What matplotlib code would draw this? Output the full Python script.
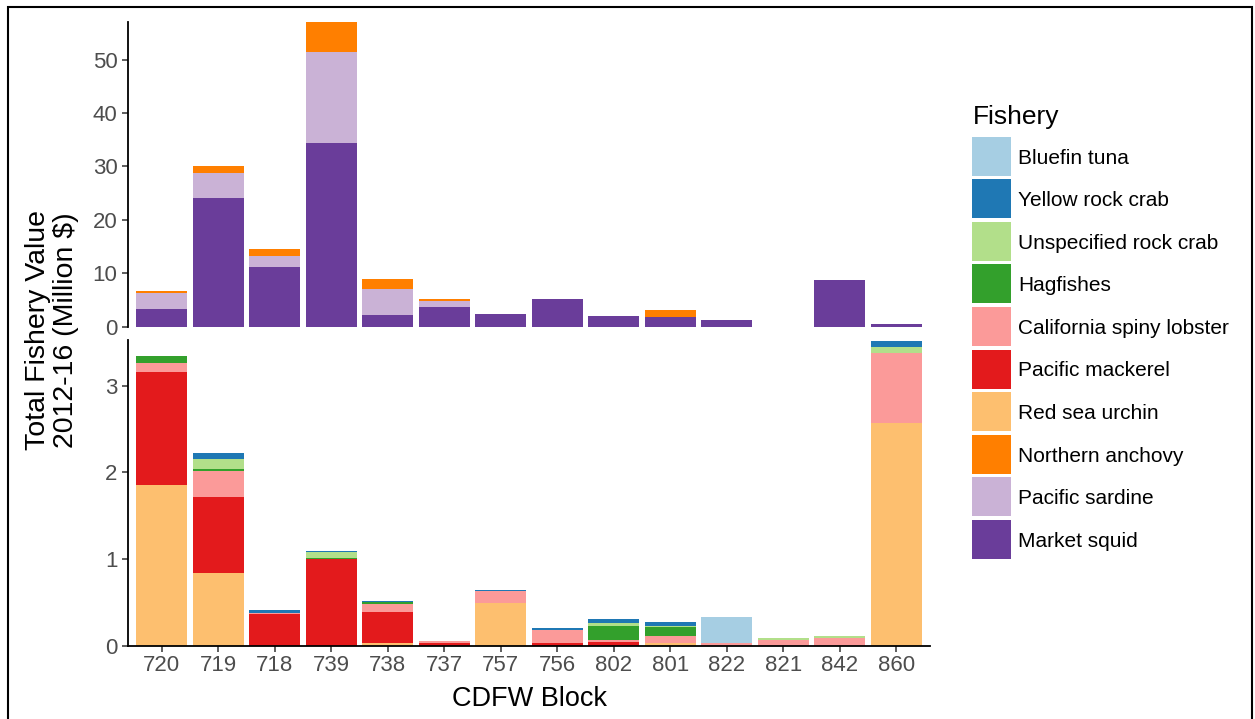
import matplotlib
matplotlib.use("Agg")
import matplotlib.pyplot as plt
from matplotlib.patches import Rectangle
import numpy as np

plt.rcParams['font.family'] = ['Liberation Sans', 'DejaVu Sans']

blocks = ["720", "719", "718", "739", "738", "737", "757", "756",
          "802", "801", "822", "821", "842", "860"]

# Top panel (large fisheries), Million $
market_squid    = [3.3, 24.1, 11.1, 34.3, 2.2, 3.6, 2.4, 5.2, 1.95, 1.9, 1.25, 0.0, 8.7, 0.5]
pacific_sardine = [3.1, 4.6, 2.1, 17.1, 4.8, 1.3, 0.0, 0.0, 0.0, 0.0, 0.0, 0.0, 0.0, 0.0]
northern_anchovy = [0.3, 1.4, 1.3, 5.7, 2.0, 0.2, 0.0, 0.0, 0.0, 1.2, 0.0, 0.0, 0.0, 0.0]

# Bottom panel (smaller fisheries), Million $
red_sea_urchin   = [1.86, 0.84, 0.0, 0.0, 0.03, 0.0, 0.49, 0.0, 0.0, 0.04, 0.0, 0.0, 0.0, 2.57]
pacific_mackerel = [1.30, 0.88, 0.37, 1.0, 0.36, 0.03, 0.01, 0.03, 0.05, 0.0, 0.0, 0.0, 0.0, 0.0]
spiny_lobster    = [0.10, 0.30, 0.01, 0.0, 0.09, 0.03, 0.13, 0.15, 0.02, 0.07, 0.03, 0.07, 0.09, 0.81]
hagfishes        = [0.08, 0.02, 0.0, 0.02, 0.03, 0.0, 0.0, 0.0, 0.16, 0.11, 0.0, 0.0, 0.0, 0.0]
unspec_rock_crab = [0.0, 0.11, 0.0, 0.06, 0.0, 0.0, 0.0, 0.0, 0.03, 0.01, 0.0, 0.02, 0.02, 0.07]
yellow_rock_crab = [0.0, 0.07, 0.04, 0.01, 0.01, 0.0, 0.02, 0.03, 0.05, 0.05, 0.01, 0.0, 0.0, 0.06]
bluefin_tuna     = [0.0, 0.0, 0.0, 0.0, 0.0, 0.0, 0.0, 0.0, 0.0, 0.0, 0.30, 0.0, 0.0, 0.0]

legend_order = ["Bluefin tuna", "Yellow rock crab", "Unspecified rock crab", "Hagfishes",
                "California spiny lobster", "Pacific mackerel", "Red sea urchin",
                "Northern anchovy", "Pacific sardine", "Market squid"]
colors = {
    "Bluefin tuna": "#A6CEE3",
    "Yellow rock crab": "#1F78B4",
    "Unspecified rock crab": "#B2DF8A",
    "Hagfishes": "#33A02C",
    "California spiny lobster": "#FB9A99",
    "Pacific mackerel": "#E31A1C",
    "Red sea urchin": "#FDBF6F",
    "Northern anchovy": "#FF7F00",
    "Pacific sardine": "#CAB2D6",
    "Market squid": "#6A3D9A",
}

top_series = [("Market squid", market_squid), ("Pacific sardine", pacific_sardine),
              ("Northern anchovy", northern_anchovy)]
bottom_series = [("Red sea urchin", red_sea_urchin), ("Pacific mackerel", pacific_mackerel),
                 ("California spiny lobster", spiny_lobster), ("Hagfishes", hagfishes),
                 ("Unspecified rock crab", unspec_rock_crab), ("Yellow rock crab", yellow_rock_crab),
                 ("Bluefin tuna", bluefin_tuna)]

W, H = 1255, 719
fig = plt.figure(figsize=(W / 100, H / 100), dpi=100)

def fx(px):
    return px / W

def fy(py):
    return 1 - py / H

left, right = 128, 930
ax_top = fig.add_axes([fx(left), fy(326.7), fx(right - left), (326.7 - 21.7) / H])
ax_bot = fig.add_axes([fx(left), fy(646), fx(right - left), (646 - 340) / H])

x = np.arange(len(blocks))
tick_col = "#333333"
lab_col = "#4D4D4D"

def stack(ax, series):
    bottom = np.zeros(len(blocks))
    for name, vals in series:
        v = np.array(vals, dtype=float)
        ax.bar(x, v, width=0.9, bottom=bottom, color=colors[name], linewidth=0)
        bottom += v
    return bottom

stack(ax_top, top_series)
stack(ax_bot, bottom_series)

ax_top.set_ylim(0, 57.1)
ax_top.set_yticks([0, 10, 20, 30, 40, 50])
ax_bot.set_ylim(0, 3.527)
ax_bot.set_yticks([0, 1, 2, 3])

for ax in (ax_top, ax_bot):
    ax.set_xlim(-0.6, len(blocks) - 0.4)
    for s in ("top", "right"):
        ax.spines[s].set_visible(False)
    ax.spines["left"].set_linewidth(1.3)
    ax.spines["left"].set_color("black")
    ax.tick_params(axis="y", length=4.5, width=1.1, color=tick_col,
                   labelsize=16, labelcolor=lab_col, pad=3)

ax_top.spines["bottom"].set_visible(False)
ax_top.set_xticks([])
ax_bot.spines["bottom"].set_linewidth(1.3)
ax_bot.spines["bottom"].set_color("black")
ax_bot.set_xticks(x)
ax_bot.set_xticklabels(blocks)
ax_bot.tick_params(axis="x", length=4.5, width=1.1, color=tick_col,
                   labelsize=16, labelcolor=lab_col, pad=2)

fig.text(fx(52), fy(330), "Total Fishery Value\n2012-16 (Million $)", rotation=90,
         ha="center", va="center", multialignment="center", fontsize=20.5, color="black",
         linespacing=1.1)
fig.text(fx(529), fy(699), "CDFW Block", ha="center", va="center", fontsize=19.5, color="black")

# Legend (drawn as figure-level keys and labels)
fig.text(fx(973), fy(124.3), "Fishery", ha="left", va="baseline", fontsize=19, color="black")
key_top0, pitch, key = 136.7, 42.56, 39.0
for i, name in enumerate(legend_order):
    top = key_top0 + i * pitch
    fig.add_artist(Rectangle((fx(971.7), fy(top + key)), fx(key), key / H,
                             transform=fig.transFigure, facecolor=colors[name],
                             edgecolor="none"))
    fig.text(fx(1018.3), fy(top + key / 2), name, ha="left", va="center_baseline",
             fontsize=15, color="black")

fig.add_artist(Rectangle((fx(8), -0.01), fx(1252 - 8), fy(7) + 0.01, transform=fig.transFigure,
                         fill=False, edgecolor="black", linewidth=1.5))

fig.savefig("out.png", dpi=100)
